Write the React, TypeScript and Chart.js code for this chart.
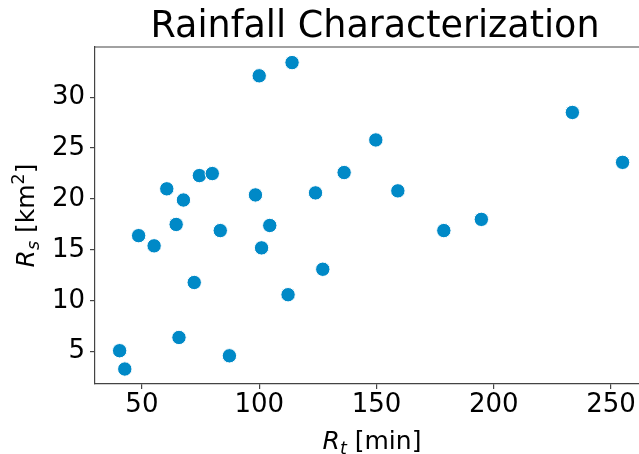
import React, { useEffect, useRef } from "react";
import { Chart, registerables } from "chart.js";

Chart.register(...registerables);

// ---- data ----
const rtMinutes = [
  100.0, 114.0, 60.6, 67.7, 74.5, 80.0, 98.4, 124.0, 136.2, 48.6, 64.6, 83.4, 104.5, 55.2,
  72.3, 101.0, 112.3, 127.1, 65.8, 40.5, 42.7, 87.3, 149.7, 159.1, 178.7, 194.7, 233.5, 254.9,
];
const rsKm2 = [
  32.1, 33.4, 21.0, 19.9, 22.3, 22.5, 20.4, 20.6, 22.6, 16.4, 17.5, 16.9, 17.4, 15.4,
  11.8, 15.2, 10.6, 13.1, 6.4, 5.1, 3.3, 4.6, 25.8, 20.8, 16.9, 18.0, 28.5, 23.6,
];
const xTickValues = [50, 100, 150, 200, 250];
const yTickValues = [5, 10, 15, 20, 25, 30];
const xRange = [30.0, 261.9];
const yRange = [1.83, 34.93];
const titleText = "Rainfall Characterization";

const FAMILY = '"DejaVu Sans"';
const SPINE = "#444444";
const MARKER = "rgb(0,137,199)";
const TICK_SIZE = 26;
const LABEL_SIZE = 25;
const TITLE_SIZE = 36.5;

type Part = { text: string; italic?: boolean; scale?: number; shift?: number };

function drawMixed(ctx: CanvasRenderingContext2D, parts: Part[], size: number, cx: number, y: number) {
  const fontFor = (p: Part) =>
    `${p.italic ? "italic " : ""}${Math.round(size * (p.scale ?? 1) * 10) / 10}px ${FAMILY}`;
  let total = 0;
  const widths: number[] = [];
  for (const p of parts) {
    ctx.font = fontFor(p);
    const w = ctx.measureText(p.text).width;
    widths.push(w);
    total += w;
  }
  let x = cx - total / 2;
  ctx.textAlign = "left";
  ctx.textBaseline = "alphabetic";
  parts.forEach((p, i) => {
    ctx.font = fontFor(p);
    ctx.fillText(p.text, x, y + (p.shift ?? 0) * size);
    x += widths[i];
  });
}

const textPlugin = {
  id: "mplText",
  afterDraw(chart: any) {
    const ctx: CanvasRenderingContext2D = chart.ctx;
    const area = chart.chartArea;
    ctx.save();
    // top spine
    ctx.strokeStyle = SPINE;
    ctx.lineWidth = 1.2;
    ctx.beginPath();
    ctx.moveTo(area.left, area.top);
    ctx.lineTo(area.right + 2, area.top);
    ctx.stroke();

    ctx.fillStyle = "#000";
    // title
    ctx.font = `${TITLE_SIZE}px ${FAMILY}`;
    ctx.textAlign = "center";
    ctx.textBaseline = "alphabetic";
    ctx.fillText(titleText, 375, 37);

    // x label
    drawMixed(
      ctx,
      [
        { text: "R", italic: true },
        { text: "t", italic: true, scale: 0.7, shift: 0.2 },
        { text: " [min]" },
      ],
      LABEL_SIZE,
      372,
      449
    );

    // y label
    ctx.translate(34, 215.5);
    ctx.rotate(-Math.PI / 2);
    drawMixed(
      ctx,
      [
        { text: "R", italic: true },
        { text: "s", italic: true, scale: 0.7, shift: 0.2 },
        { text: " [km" },
        { text: "2", scale: 0.7, shift: -0.4 },
        { text: "]" },
      ],
      LABEL_SIZE,
      0,
      0
    );
    ctx.restore();
  },
};

export default function App() {
  const ref = useRef<HTMLCanvasElement | null>(null);

  useEffect(() => {
    if (!ref.current) return;
    const points = rtMinutes.map((x, i) => ({ x, y: rsKm2[i] }));
    const chart = new Chart(ref.current, {
      type: "scatter",
      data: {
        datasets: [
          {
            data: points,
            backgroundColor: MARKER,
            borderColor: "#ffffff",
            borderWidth: 1,
            pointRadius: 7.2,
            pointHoverRadius: 7.2,
          },
        ],
      },
      options: {
        animation: false,
        responsive: false,
        events: [],
        layout: { autoPadding: false, padding: { top: 47, left: 0, right: 0, bottom: 0 } },
        plugins: {
          legend: { display: false },
          tooltip: { enabled: false },
          title: { display: false },
        },
        scales: {
          x: {
            type: "linear",
            min: xRange[0],
            max: xRange[1],
            afterBuildTicks: (s: any) => {
              s.ticks = xTickValues.map((v) => ({ value: v }));
            },
            afterFit: (s: any) => {
              s.height = 70;
              s.paddingLeft = 0;
              s.paddingRight = 0;
            },
            grid: {
              display: true,
              drawOnChartArea: false,
              drawTicks: true,
              tickLength: 5,
              color: SPINE,
              lineWidth: 1.2,
            },
            border: { display: true, color: SPINE, width: 1.2 },
            ticks: {
              color: "#000",
              padding: 1,
              maxRotation: 0,
              font: { family: "DejaVu Sans", size: TICK_SIZE },
            },
          },
          y: {
            type: "linear",
            min: yRange[0],
            max: yRange[1],
            afterBuildTicks: (s: any) => {
              s.ticks = yTickValues.map((v) => ({ value: v }));
            },
            afterFit: (s: any) => {
              s.width = 95;
              s.paddingTop = 0;
              s.paddingBottom = 0;
            },
            grid: {
              display: true,
              drawOnChartArea: false,
              drawTicks: true,
              tickLength: 5,
              color: SPINE,
              lineWidth: 1.2,
            },
            border: { display: true, color: SPINE, width: 1.2 },
            ticks: {
              color: "#000",
              padding: 5,
              font: { family: "DejaVu Sans", size: TICK_SIZE },
            },
          },
        },
      },
      plugins: [textPlugin],
    });
    return () => chart.destroy();
  }, []);

  return (
    <div style={{ position: "fixed", left: 0, top: 0, width: 639, height: 454, background: "#fff" }}>
      <canvas ref={ref} width={639} height={454} style={{ width: 639, height: 454, display: "block" }} />
    </div>
  );
}
